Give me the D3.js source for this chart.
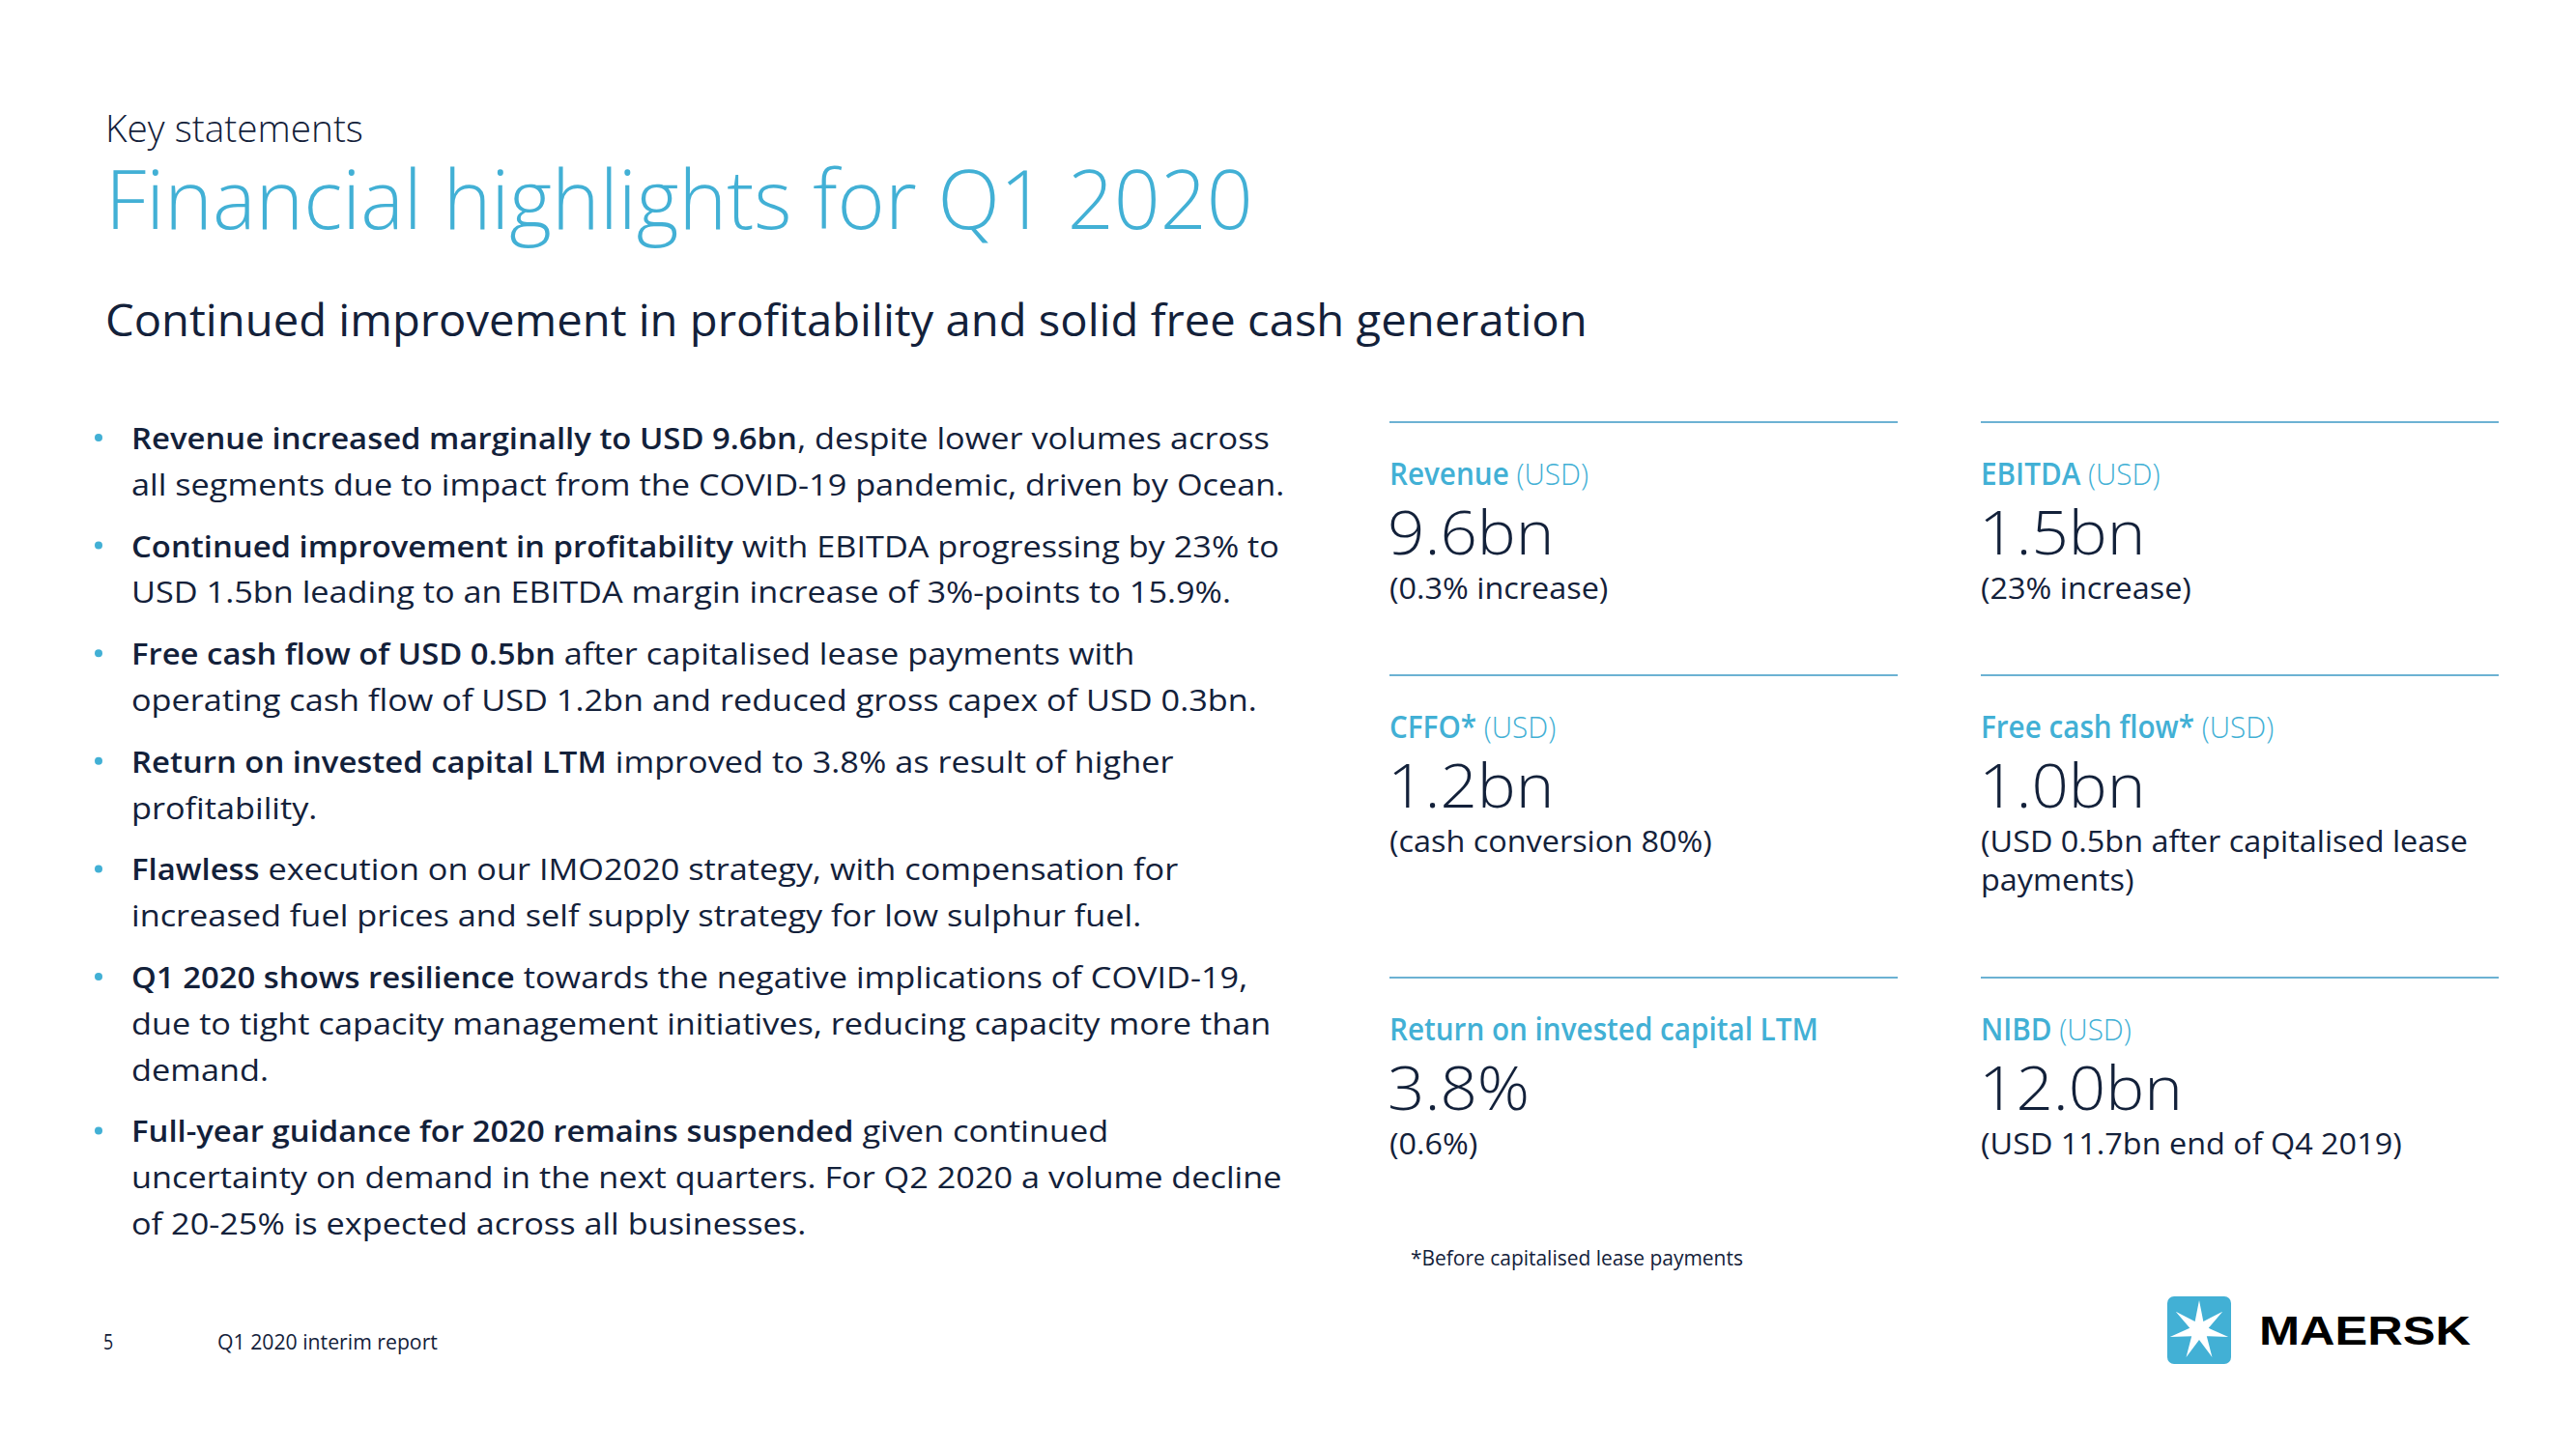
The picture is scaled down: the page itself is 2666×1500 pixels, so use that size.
<!DOCTYPE html>
<html><head><meta charset="utf-8">
<script src="https://cdn.jsdelivr.net/npm/d3@7"></script>
<style>
body{margin:0;background:#fff}
svg{display:block}
text{white-space:pre}
</style>
</head><body>
<svg id="chart" width="2666" height="1500"></svg>
<script>
// ---------------- DATA ----------------
const pageKicker = "Key statements";
const pageTitle = "Financial highlights for Q1 2020";
const pageSubtitle = "Continued improvement in profitability and solid free cash generation";

const bulletLineBold = [
  "Revenue increased marginally to USD 9.6bn", "",
  "Continued improvement in profitability", "",
  "Free cash flow of USD 0.5bn", "",
  "Return on invested capital LTM", "",
  "Flawless", "",
  "Q1 2020 shows resilience", "", "",
  "Full-year guidance for 2020 remains suspended", "", ""
];
const bulletLineText = [
  ", despite lower volumes across",
  "all segments due to impact from the COVID-19 pandemic, driven by Ocean.",
  " with EBITDA progressing by 23% to",
  "USD 1.5bn leading to an EBITDA margin increase of 3%-points to 15.9%.",
  " after capitalised lease payments with",
  "operating cash flow of USD 1.2bn and reduced gross capex of USD 0.3bn.",
  " improved to 3.8% as result of higher",
  "profitability.",
  " execution on our IMO2020 strategy, with compensation for",
  "increased fuel prices and self supply strategy for low sulphur fuel.",
  " towards the negative implications of COVID-19,",
  "due to tight capacity management initiatives, reducing capacity more than",
  "demand.",
  " given continued",
  "uncertainty on demand in the next quarters. For Q2 2020 a volume decline",
  "of 20-25% is expected across all businesses."
];
const bulletLineGroup = [0,0,1,1,2,2,3,3,4,4,5,5,5,6,6,6];

const kpiLabel = ["Revenue", "EBITDA", "CFFO*", "Free cash flow*", "Return on invested capital LTM", "NIBD"];
const kpiUnit  = ["(USD)", "(USD)", "(USD)", "(USD)", "", "(USD)"];
const kpiValue = ["9.6bn", "1.5bn", "1.2bn", "1.0bn", "3.8%", "12.0bn"];
const kpiNote  = [
  ["(0.3% increase)"],
  ["(23% increase)"],
  ["(cash conversion 80%)"],
  ["(USD 0.5bn after capitalised lease", "payments)"],
  ["(0.6%)"],
  ["(USD 11.7bn end of Q4 2019)"]
];
const footnoteText = "*Before capitalised lease payments";
const pageNumber = "5";
const footerText = "Q1 2020 interim report";
const brandName = "MAERSK";

// ---------------- STYLE / LAYOUT ----------------
const BLUE = "#42b0d5";
const NAVY = "#13213a";
const RULE = "#6cb2d3";
const FONT = "'Open Sans', 'Noto Sans', sans-serif";

const svg = d3.select("#chart");
svg.append("rect").attr("width",2666).attr("height",1500).attr("fill","#fff");

function condense(sel, x, y, target) {
  const w = sel.node().getComputedTextLength();
  const sx = target ? target / w : 1;
  sel.attr("transform", `translate(${x},${y}) scale(${sx},1)`);
  return sx;
}
function placeScaled(sel, x, y, sx) {
  sel.attr("transform", `translate(${x},${y}) scale(${sx},1)`);
}

// Header
const kicker = svg.append("text").attr("font-family",FONT).attr("font-size",38)
  .attr("font-weight",300).attr("fill",NAVY).text(pageKicker);
condense(kicker, 109, 147, 267);

const title = svg.append("text").attr("font-family",FONT).attr("font-size",84)
  .attr("font-weight",300).attr("fill",BLUE).text(pageTitle);
condense(title, 109, 237, 1188);

const subtitle = svg.append("text").attr("font-family",FONT).attr("font-size",46)
  .attr("font-weight",400).attr("fill",NAVY).text(pageSubtitle);
condense(subtitle, 109, 348, 1534);

// Bullets
const bulletX = 136, bulletY0 = 465, lineH = 47.8, paraGap = 16;
const yLine = i => bulletY0 + i * lineH + bulletLineGroup[i] * paraGap;
const bg = svg.append("g");

const boldT = bg.selectAll("text.bb").data(bulletLineBold).join("text")
  .attr("class","bb").attr("font-family",FONT).attr("font-size",31)
  .attr("font-weight",600).attr("fill",NAVY).text(d => d);
const regT = bg.selectAll("text.br").data(bulletLineText).join("text")
  .attr("class","br").attr("font-family",FONT).attr("font-size",31)
  .attr("font-weight",400).attr("fill",NAVY).text(d => d);

// horizontal compression derived from reference widths of regular and bold runs
const regRefIdx = [1, 3, 5, 9, 11, 14];
const regRefW = [1188, 1146, 1170, 1047, 1174, 1189];
const boldRefIdx = [0, 2, 4, 6, 8, 10, 13];
const boldRefW = [686, 607, 447, 487, 135, 406, 752];
const nodesReg = regT.nodes(), nodesBold = boldT.nodes();
const bodySx = d3.sum(regRefW) / d3.sum(regRefIdx, i => nodesReg[i].getComputedTextLength());
const boldSx = d3.sum(boldRefW) / d3.sum(boldRefIdx, i => nodesBold[i].getComputedTextLength());

bulletLineText.forEach((d, i) => {
  const bw = bulletLineBold[i] ? nodesBold[i].getComputedTextLength() * boldSx : 0;
  placeScaled(d3.select(nodesBold[i]), bulletX, yLine(i), boldSx);
  placeScaled(d3.select(nodesReg[i]), bulletX + bw, yLine(i), bodySx);
});

const firstLines = d3.range(bulletLineText.length).filter(i => i === 0 || bulletLineGroup[i] !== bulletLineGroup[i-1]);
bg.selectAll("circle.dot").data(firstLines).join("circle")
  .attr("cx", 102).attr("cy", i => yLine(i) - 12).attr("r", 4).attr("fill", BLUE);

// KPI tiles
const colX = [1438, 2050], colW = [526, 536];
const rowY = [437, 699, 1012];
const kg = svg.append("g");
let labelSx, valueSx, noteSx;
{
  const t = kg.append("text").attr("font-family",FONT).attr("font-size",32).attr("font-weight",600).text(kpiLabel[4]);
  labelSx = 444 / t.node().getComputedTextLength(); t.remove();
  const v = kg.append("text").attr("font-family",FONT).attr("font-size",62).attr("font-weight",300).text(kpiValue[5]);
  valueSx = 211 / v.node().getComputedTextLength(); v.remove();
  const n = kg.append("text").attr("font-family",FONT).attr("font-size",31).attr("font-weight",400).text(kpiNote[5][0]);
  noteSx = 436 / n.node().getComputedTextLength(); n.remove();
}
kpiLabel.forEach((lab, k) => {
  const c = k % 2, r = Math.floor(k / 2);
  const x = colX[c], y0 = rowY[r];
  kg.append("line").attr("x1", x).attr("x2", x + colW[c]).attr("y1", y0).attr("y2", y0)
    .attr("stroke", RULE).attr("stroke-width", 2);
  const lt = kg.append("text").attr("font-family",FONT).attr("font-size",32).attr("fill",BLUE);
  lt.append("tspan").attr("font-weight",600).text(lab);
  if (kpiUnit[k]) lt.append("tspan").attr("font-weight",300).text(" " + kpiUnit[k]);
  placeScaled(lt, x, y0 + 65, labelSx);
  const vt = kg.append("text").attr("font-family",FONT).attr("font-size",62).attr("font-weight",300)
    .attr("fill",NAVY).text(kpiValue[k]);
  placeScaled(vt, x - 2, y0 + 137, valueSx);
  kpiNote[k].forEach((nl, j) => {
    const nt = kg.append("text").attr("font-family",FONT).attr("font-size",31).attr("font-weight",400)
      .attr("fill",NAVY).text(nl);
    placeScaled(nt, x, y0 + 183 + j * 40, noteSx);
  });
});

const fn = svg.append("text").attr("font-family",FONT).attr("font-size",21).attr("fill",NAVY).text(footnoteText);
condense(fn, 1460, 1310, 344);

// Footer
const pn = svg.append("text").attr("font-family",FONT).attr("font-size",21).attr("fill",NAVY).text(pageNumber);
placeScaled(pn, 107, 1397, 0.85);
const ft = svg.append("text").attr("font-family",FONT).attr("font-size",21).attr("fill",NAVY).text(footerText);
condense(ft, 225, 1397, 228);

// Logo
const logo = svg.append("g");
logo.append("rect").attr("x",2243).attr("y",1342).attr("width",66).attr("height",70).attr("rx",7).attr("fill",BLUE);
const cx = 2276, cy = 1377, R = 31, r0 = 10;
const starPts = d3.range(14).map(i => {
  const a = -Math.PI/2 + i * Math.PI / 7;
  const rr = i % 2 === 0 ? R : r0;
  return [cx + rr * Math.cos(a), cy + rr * Math.sin(a)];
});
logo.append("path").attr("d", d3.line()(starPts) + "Z").attr("fill","#fff");
logo.append("text").attr("x",2338).attr("y",1392).attr("font-family","'Liberation Sans', Arial, sans-serif")
  .attr("font-weight",700).attr("font-size",42).attr("fill","#000")
  .attr("textLength",219).attr("lengthAdjust","spacingAndGlyphs").text(brandName);
</script>
</body></html>
